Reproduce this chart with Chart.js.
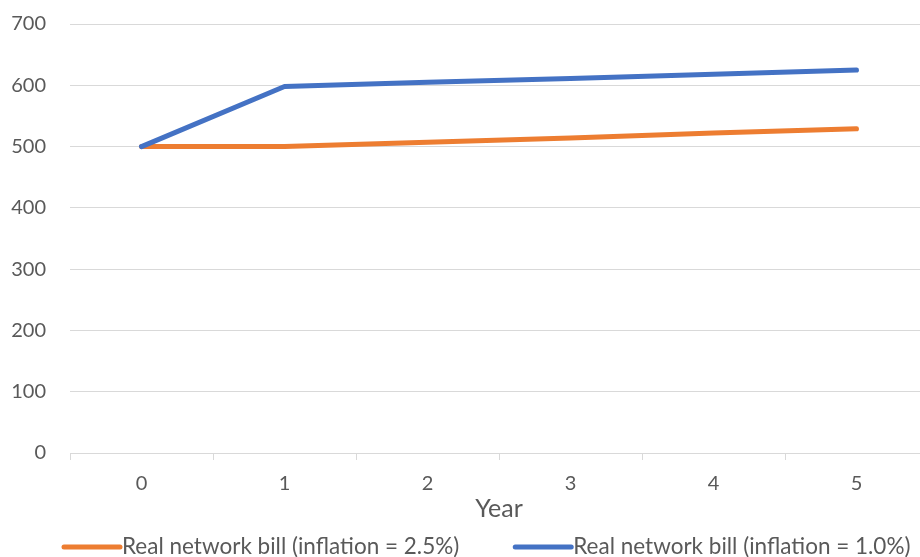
<!DOCTYPE html>
<html>
<head>
<meta charset="utf-8">
<title>Real network bill</title>
<script src="https://cdn.jsdelivr.net/npm/chart.js@4"></script>
<style>
  html, body { margin: 0; padding: 0; background: #fff; }
  body { width: 920px; height: 557px; overflow: hidden; }
  canvas { display: block; }
</style>
</head>
<body>
<canvas id="bill-chart" width="940" height="557"></canvas>
<script>
const years = ["0", "1", "2", "3", "4", "5"];
const billInflation25 = [500, 500, 507, 514, 522, 529];
const billInflation10 = [500, 598, 605, 611, 618, 625];
const yTicks = [0, 100, 200, 300, 400, 500, 600, 700];

const FONT = "Lato, 'Open Sans', sans-serif";
const TEXT = "#595959";
const GRID = "#d9d9d9";

// legend drawn as a line swatch butting against its label
const lineLegend = {
  id: "lineLegend",
  afterDraw(chart) {
    const ctx = chart.ctx;
    const y = 547;
    let x = 64;
    ctx.save();
    ctx.font = "22.5px " + FONT;
    ctx.textBaseline = "middle";
    ctx.lineCap = "round";
    chart.data.datasets.forEach((ds) => {
      ctx.strokeStyle = ds.borderColor;
      ctx.lineWidth = 5;
      ctx.beginPath();
      ctx.moveTo(x, y);
      ctx.lineTo(x + 56, y);
      ctx.stroke();
      ctx.fillStyle = TEXT;
      ctx.fillText(ds.label, x + 58, y);
      x += 58 + ctx.measureText(ds.label).width + 56;
    });
    ctx.restore();
  },
};

new Chart(document.getElementById("bill-chart"), {
  type: "line",
  data: {
    labels: years,
    datasets: [
      {
        label: "Real network bill (inflation = 2.5%)",
        data: billInflation25,
        borderColor: "#ed7d31",
        order: 1,
      },
      {
        label: "Real network bill (inflation = 1.0%)",
        data: billInflation10,
        borderColor: "#4472c4",
        order: 0,
      },
    ],
  },
  options: {
    responsive: false,
    animation: false,
    layout: { padding: { top: 24, right: 12, bottom: 33, left: 0 } },
    elements: {
      line: {
        borderWidth: 5,
        tension: 0,
        borderCapStyle: "round",
        borderJoinStyle: "round",
      },
      point: { radius: 0, hoverRadius: 0 },
    },
    plugins: {
      legend: { display: false },
      tooltip: { enabled: false },
    },
    scales: {
      x: {
        offset: true,
        grid: {
          offset: true,
          drawOnChartArea: false,
          color: GRID,
          tickLength: 7,
        },
        border: { color: GRID },
        ticks: {
          color: TEXT,
          font: { family: FONT, size: 20 },
          padding: 12,
        },
        title: {
          display: true,
          text: "Year",
          color: TEXT,
          font: { family: FONT, size: 25 },
          padding: { top: 0, bottom: 0 },
        },
        afterFit: (scale) => {
          scale.height = 71;
        },
      },
      y: {
        min: 0,
        max: 700,
        afterBuildTicks: (scale) => {
          scale.ticks = yTicks.map((v) => ({ value: v }));
        },
        grid: { color: GRID, drawTicks: false },
        border: { display: false },
        ticks: {
          color: TEXT,
          font: { family: FONT, size: 20 },
          padding: 24,
        },
        afterFit: (scale) => {
          scale.width = 70;
          scale.paddingTop = 0;
          scale.paddingBottom = 0;
        },
      },
    },
  },
  plugins: [lineLegend],
});
</script>
</body>
</html>
